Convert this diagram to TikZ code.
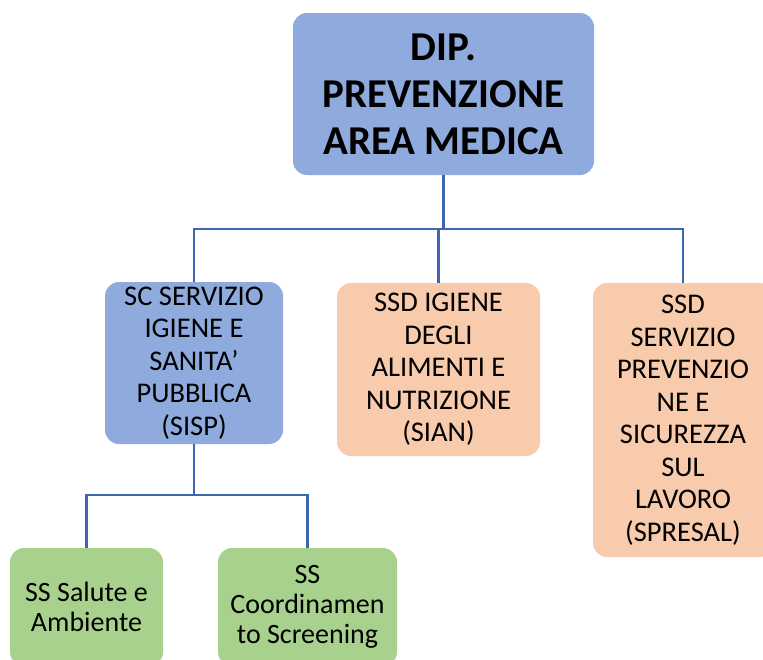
\documentclass[tikz,border=0pt]{standalone}
\usepackage{fontspec}
\setmainfont{Carlito}
\usepackage{tikz}
\definecolor{boxblue}{HTML}{8FAADC}
\definecolor{boxorange}{HTML}{F8CBAD}
\definecolor{boxgreen}{HTML}{A9D18E}
\definecolor{linkblue}{HTML}{3F66B0}

\begin{document}
\begin{tikzpicture}[x=1pt, y=-1pt,
	box/.style={rounded corners=14pt, inner sep=0pt, align=center, font=\fontsize{28.5}{32.5}\selectfont},
	link/.style={linkblue, line width=2.5pt}]
	
	\useasboundingbox (0,0) rectangle (763,659);
	\clip (0,0) rectangle (763,659);
	
	\node[box, fill=boxblue, minimum width=301pt, minimum height=162pt, font=\fontsize{41}{47}\selectfont\bfseries] (dip) at (443.5,94) {DIP.\\PREVENZIONE\\AREA MEDICA};
	\node[box, fill=boxblue, minimum width=178pt, minimum height=162pt] (sisp) at (194,363) {SC SERVIZIO\\IGIENE E\\SANITA’\\PUBBLICA\\(SISP)};
	\node[box, fill=boxorange, minimum width=203pt, minimum height=173pt] (sian) at (438.5,369.5) {SSD IGIENE\\DEGLI\\ALIMENTI E\\NUTRIZIONE\\(SIAN)};
	\node[box, fill=boxorange, minimum width=180pt, minimum height=274pt] (spresal) at (683,420) {SSD\\SERVIZIO\\PREVENZIO\\NE E\\SICUREZZA\\SUL\\LAVORO\\(SPRESAL)};
	\node[box, fill=boxgreen, minimum width=153pt, minimum height=118pt, font=\fontsize{28}{30}\selectfont] (salute) at (86.5,607) {SS Salute e\\Ambiente};
	\node[box, fill=boxgreen, minimum width=179pt, minimum height=118pt, font=\fontsize{28}{30}\selectfont] (screening) at (307.5,607) {SS\\Coordinamen\\to Screening};
	
	\draw[link] (dip.south) -- ++(0,54) coordinate (bus);
	\draw[link] (sisp.north) |- (bus) -| (spresal.north);
	\draw[link] (sian.north) -- (sian.north |- bus);
	\draw[link] (sisp.south) -- ++(0,51) coordinate (subbus);
	\draw[link] (salute.north) |- (subbus) -| (screening.north);
	
\end{tikzpicture}
\end{document}
